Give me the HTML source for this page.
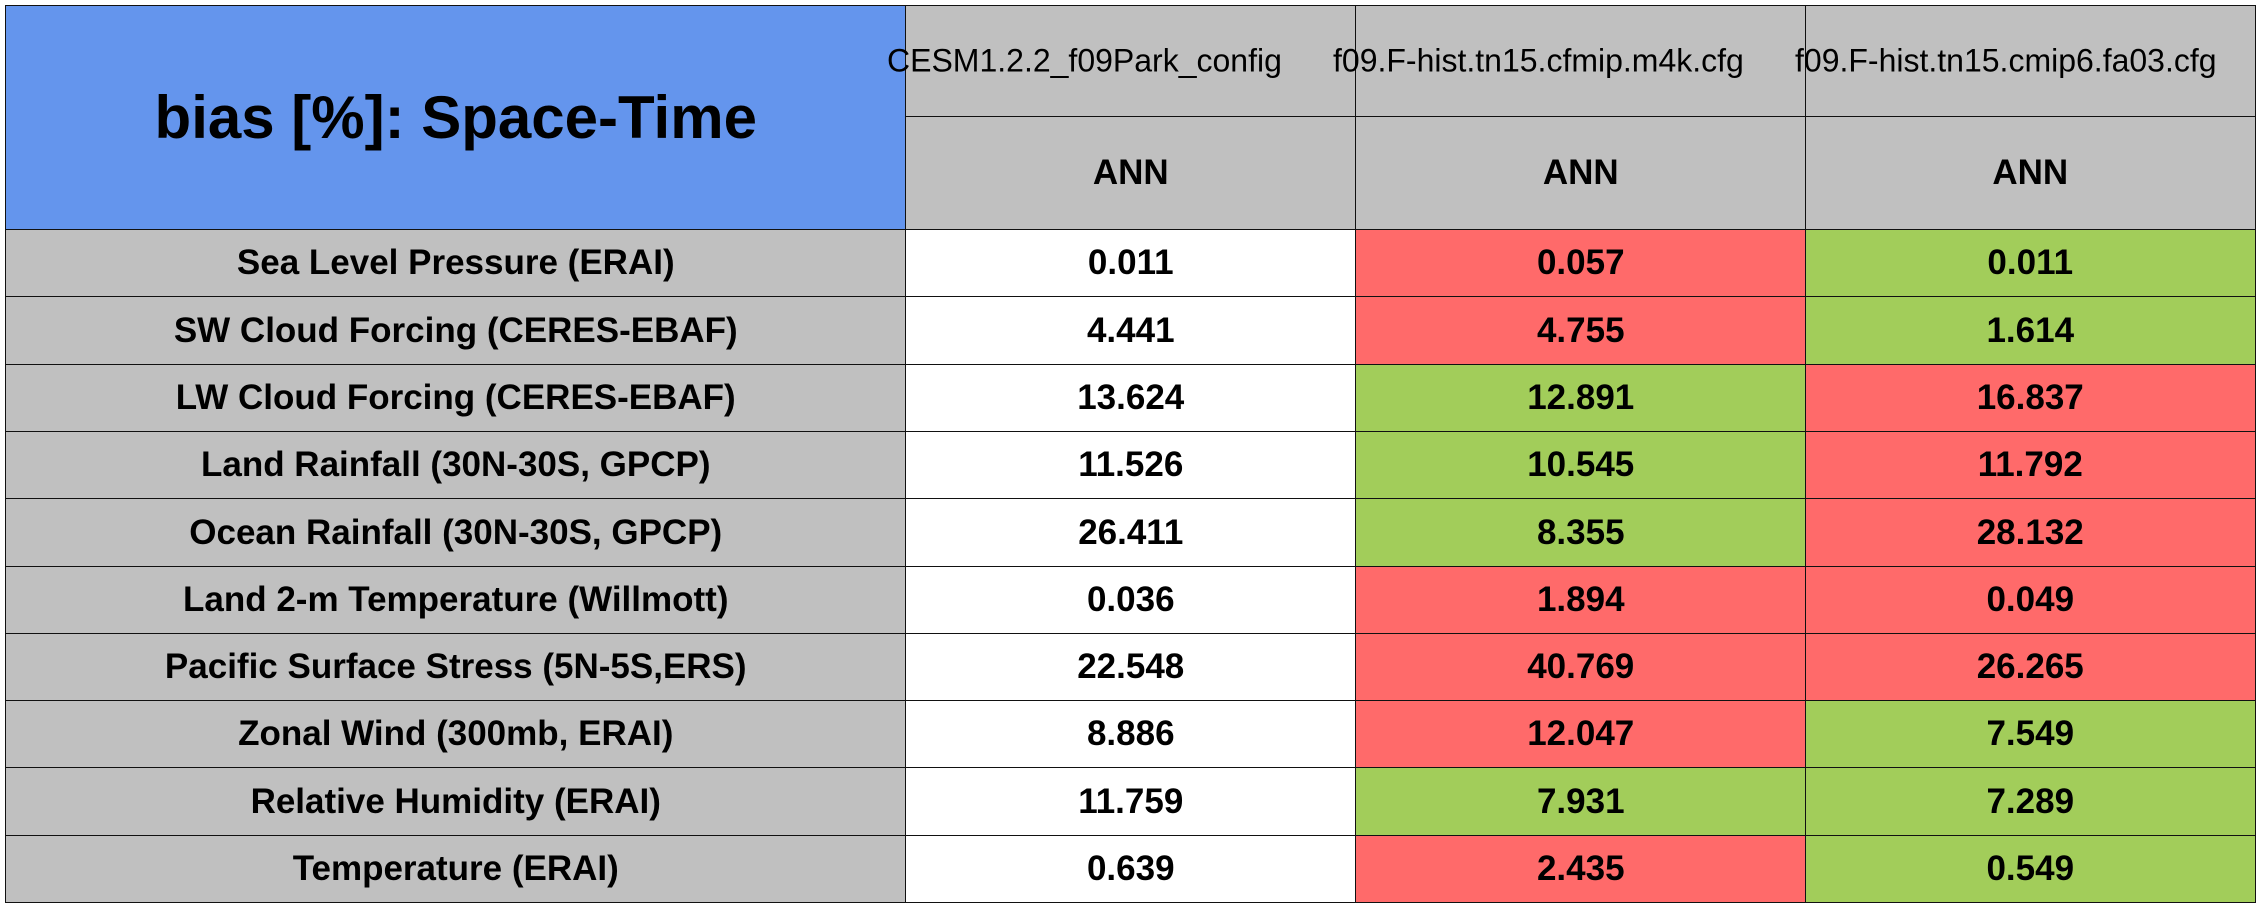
<!DOCTYPE html>
<html><head><meta charset="utf-8">
<style>
html,body{margin:0;padding:0;background:#fff;width:2260px;height:911px;overflow:hidden}
#t{position:relative;width:2260px;height:911px;font-family:"Liberation Sans",Arial,sans-serif}
.c{position:absolute;box-sizing:border-box;border:1.5px solid #111;white-space:nowrap;display:flex;align-items:center;justify-content:center;color:#000;font-weight:bold}
.h{justify-content:flex-start;font-weight:normal;font-size:32px;overflow:visible}
.h span{position:absolute;top:50%;transform:translateY(-50%)}
</style></head>
<body>
<div id="t"></div>
<script>
const title = "bias [%]: Space-Time";
const caseNames = ["CESM1.2.2_f09Park_config","f09.F-hist.tn15.cfmip.m4k.cfg","f09.F-hist.tn15.cmip6.fa03.cfg"];
const season = ["ANN","ANN","ANN"];
const variables = ["Sea Level Pressure (ERAI)","SW Cloud Forcing (CERES-EBAF)","LW Cloud Forcing (CERES-EBAF)","Land Rainfall (30N-30S, GPCP)","Ocean Rainfall (30N-30S, GPCP)","Land 2-m Temperature (Willmott)","Pacific Surface Stress (5N-5S,ERS)","Zonal Wind (300mb, ERAI)","Relative Humidity (ERAI)","Temperature (ERAI)"];
const case1 = ["0.011","4.441","13.624","11.526","26.411","0.036","22.548","8.886","11.759","0.639"];
const case2 = ["0.057","4.755","12.891","10.545","8.355","1.894","40.769","12.047","7.931","2.435"];
const case3 = ["0.011","1.614","16.837","11.792","28.132","0.049","26.265","7.549","7.289","0.549"];
const flag2 = ["r","r","g","g","g","r","r","r","g","r"];
const flag3 = ["g","g","r","r","r","r","r","g","g","g"];

const colX=[5,905,1355,1805,2254], topY=5, hSplit=116, dataTop=229, bottomY=902;
const rowH=(bottomY-dataTop)/variables.length;
const colors={w:"#ffffff",r:"#ff6a6a",g:"#a2cd5a",gray:"#c0c0c0",blue:"#6495ed"};
const T=document.getElementById('t');
function cell(x,y,w,h,bg,txt,fs,name,cls){
  const d=document.createElement('div');
  d.className='c'+(cls?' '+cls:'');
  d.style.left=x+'px';d.style.top=y+'px';d.style.width=(w+1.5)+'px';d.style.height=(h+1.5)+'px';
  d.style.background=bg;d.style.fontSize=fs+'px';
  
  
  if(cls==='h'){const s=document.createElement('span');s.textContent=txt;d.appendChild(s);return [d,s];}
  d.textContent=txt;T.appendChild(d);return [d];
}
cell(colX[0],topY,colX[1]-colX[0],dataTop-topY,colors.blue,title,60,'table-title');
const starts=[886,1332,1794];
for(let i=0;i<3;i++){
  const res=cell(colX[i+1],topY,colX[i+2]-colX[i+1],hSplit-topY,colors.gray,caseNames[i],32,'case-header-'+(i+1),'h');
  res[1].style.left=(starts[i]-colX[i+1])+'px';
  T.appendChild(res[0]);
}
for(let i=0;i<3;i++){
  cell(colX[i+1],hSplit,colX[i+2]-colX[i+1],dataTop-hSplit,colors.gray,season[i],35,'season-header-'+(i+1));
}
const vals=[case1,case2,case3], flags=[null,flag2,flag3];
for(let r=0;r<variables.length;r++){
  const y=dataTop+r*rowH;
  cell(colX[0],y,colX[1]-colX[0],rowH,colors.gray,variables[r],35,'variable-label');
  for(let c=0;c<3;c++){
    const bg=flags[c]?colors[flags[c][r]]:colors.w;
    cell(colX[c+1],y,colX[c+2]-colX[c+1],rowH,bg,vals[c][r],35,'bias-value-cell');
  }
}
</script>
</body></html>
